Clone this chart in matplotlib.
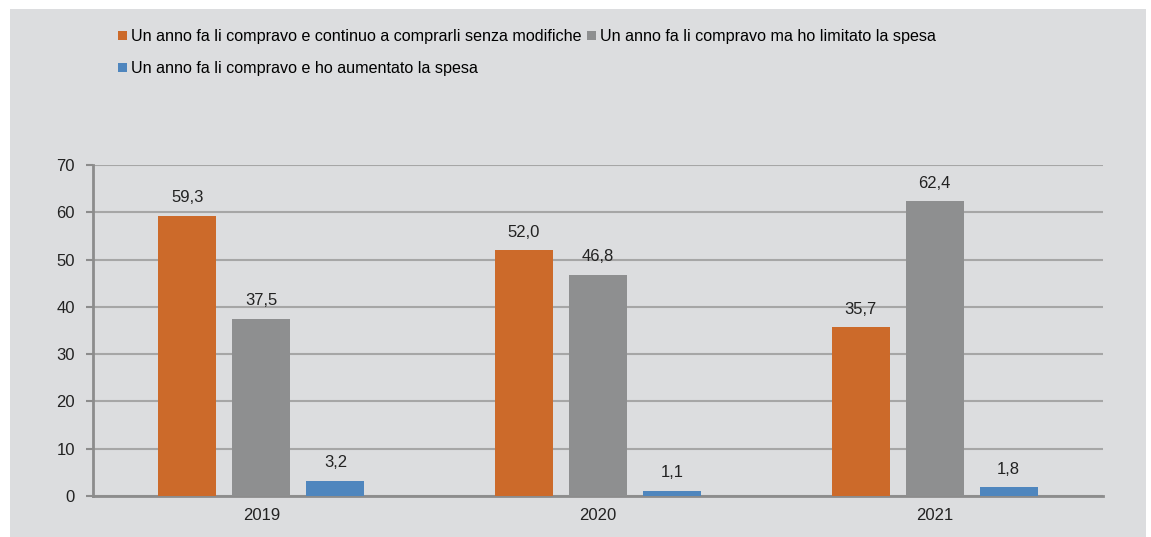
import matplotlib
matplotlib.use("Agg")
import matplotlib.pyplot as plt
import numpy as np

# data
years = ['2019', '2020', '2021']
series_labels = ['Un anno fa li compravo e continuo a comprarli senza modifiche',
                 'Un anno fa li compravo ma ho limitato la spesa',
                 'Un anno fa li compravo e ho aumentato la spesa']
senza_modifiche = [59.3, 52.0, 35.7]
limitato = [37.5, 46.8, 62.4]
aumentato = [3.2, 1.1, 1.8]
colors = ['#CC6A2A', '#8E8F90', '#4F86BE']

plt.rcParams['font.family'] = ['Liberation Sans', 'DejaVu Sans']

bg = '#DCDDDF'
fig = plt.figure(figsize=(11.51, 5.37), dpi=100)
fig.patch.set_facecolor('white')
# gray panel
panel = plt.Rectangle((10/1151, 0), 1136/1151, 528/537, transform=fig.transFigure,
                      facecolor=bg, edgecolor='none', zorder=-10)
fig.patches.append(panel)

ax = fig.add_axes([93/1151, 1 - 496/537, (1103-93)/1151, (496-165)/537])
ax.set_facecolor(bg)

x = np.arange(len(years))
w = 0.172
step = 0.22
all_series = [senza_modifiche, limitato, aumentato]
handles = []
for i, vals in enumerate(all_series):
    pos = x + (i - 1) * step
    b = ax.bar(pos, vals, width=w, color=colors[i], label=series_labels[i], zorder=3)
    handles.append(b)
    for px, v in zip(pos, vals):
        ax.text(px, v + 2.2, ('%.1f' % v).replace('.', ','), ha='center', va='bottom',
                fontsize=12, color='#222222')

ax.set_xlim(-0.5, 2.5)
ax.set_ylim(0, 70)
ax.set_yticks(range(0, 71, 10))
ax.set_xticks(x)
ax.set_xticklabels(years)
ax.yaxis.grid(True, color='#A6A6A6', linewidth=1.5, zorder=0)
ax.set_axisbelow(True)
for s in ['top', 'right']:
    ax.spines[s].set_visible(False)
ax.spines['left'].set_color('#8C8C8C')
ax.spines['left'].set_linewidth(2)
ax.spines['bottom'].set_color('#8C8C8C')
ax.spines['bottom'].set_linewidth(2)
ax.tick_params(axis='y', length=5, width=1.5, color='#8C8C8C', labelsize=12, pad=8, labelcolor='#222222')
ax.tick_params(axis='x', length=0, labelsize=12, pad=9, labelcolor='#222222')

leg = fig.legend([handles[0], handles[2], handles[1]],
                 [series_labels[0], series_labels[2], series_labels[1]],
                 ncol=2, loc='upper left', bbox_to_anchor=(112/1151, 1 - 23/537),
                 frameon=False, fontsize=11.6, handlelength=0.5, handleheight=0.5,
                 handletextpad=0.3, columnspacing=0.35, labelspacing=1.04, borderaxespad=0)

fig.savefig('out.png', dpi=100, facecolor=fig.get_facecolor())
